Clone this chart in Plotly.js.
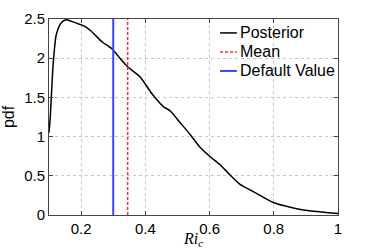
<!DOCTYPE html>
<html>
<head>
<meta charset="utf-8">
<script src="https://cdn.plot.ly/plotly-3.0.1.min.js"></script>
<style>html,body{margin:0;padding:0;background:#fff;}#chart{width:374px;height:249px;}</style>
</head>
<body>
<div id="chart"></div>
<script>
const riC = [0.100, 0.104, 0.107, 0.112, 0.117, 0.122, 0.133, 0.143, 0.153, 0.17, 0.19, 0.21, 0.23, 0.265, 0.296, 0.327, 0.345, 0.384, 0.42, 0.457, 0.477, 0.508, 0.539, 0.571, 0.60, 0.633, 0.664, 0.695, 0.726, 0.757, 0.798, 0.83, 0.871, 0.91, 0.943, 0.97, 1.0];
const posterior = [1.05, 1.25, 1.49, 1.87, 2.12, 2.29, 2.42, 2.47, 2.49, 2.47, 2.44, 2.41, 2.35, 2.21, 2.12, 1.97, 1.89, 1.76, 1.55, 1.38, 1.33, 1.18, 1.03, 0.86, 0.75, 0.64, 0.51, 0.39, 0.32, 0.25, 0.16, 0.12, 0.08, 0.055, 0.04, 0.03, 0.02];
const meanValue = 0.345;
const defaultValue = 0.3;
const vLineY = [0, 2.5];
const xTicks = [0.2, 0.4, 0.6, 0.8, 1];
const xTickText = ['0.2', '0.4', '0.6', '0.8', '1'];
const yTicks = [0, 0.5, 1, 1.5, 2, 2.5];
const yTickText = ['0', '0.5', '1', '1.5', '2', '2.5'];
const seriesNames = ['Posterior', 'Mean', 'Default Value'];
const seriesColors = ['#000000', '#ff2a2a', '#4040ff'];
const seriesDash = ['solid', '3px,2px', 'solid'];
const seriesWidth = [1.5, 1.5, 2];

const traces = [
  {x: riC, y: posterior, name: seriesNames[0], mode: 'lines', line: {color: seriesColors[0], width: seriesWidth[0], shape: 'spline', smoothing: 0.6}},
  {x: [meanValue, meanValue], y: vLineY, name: seriesNames[1], mode: 'lines', line: {color: seriesColors[1], width: seriesWidth[1], dash: seriesDash[1]}},
  {x: [defaultValue, defaultValue], y: vLineY, name: seriesNames[2], mode: 'lines', line: {color: seriesColors[2], width: seriesWidth[2]}}
];

// legend drawn in paper coordinates
const legX0 = 0.592, legX1 = 0.650, legTextX = 0.657;
const legY = [0.929, 0.832, 0.735];
const shapes = [], annotations = [];
seriesNames.forEach((n, i) => {
  shapes.push({type: 'line', xref: 'paper', yref: 'paper', x0: legX0, x1: legX1, y0: legY[i], y1: legY[i],
    line: {color: seriesColors[i], width: seriesWidth[i], dash: seriesDash[i]}});
  annotations.push({xref: 'paper', yref: 'paper', x: legTextX, y: legY[i], xanchor: 'left', yanchor: 'middle',
    text: n, showarrow: false, borderpad: 0,
    font: {family: 'Liberation Sans, Arial, sans-serif', size: 16, color: '#000'}});
});

const axisCommon = {
  showline: true, linecolor: '#444', linewidth: 1, mirror: 'ticks',
  ticks: 'inside', ticklen: 4, tickcolor: '#444',
  showgrid: true, gridcolor: '#c8c8c8', griddash: 'dot', gridwidth: 1,
  zeroline: false,
  tickfont: {family: 'Liberation Sans, Arial, sans-serif', size: 15, color: '#000'}
};

const layout = {
  width: 374, height: 249,
  margin: {l: 49, r: 36, t: 19, b: 34},
  paper_bgcolor: '#fff', plot_bgcolor: '#fff',
  showlegend: false,
  shapes: shapes,
  annotations: annotations,
  xaxis: Object.assign({}, axisCommon, {range: [0.1, 1], tickvals: xTicks, ticktext: xTickText,
    title: {text: '<i>Ri</i><sub><i>c</i></sub>', font: {family: 'Liberation Serif, DejaVu Serif, serif', size: 16, color: '#000'}, standoff: 4}}),
  yaxis: Object.assign({}, axisCommon, {range: [0, 2.5], tickvals: yTicks, ticktext: yTickText,
    title: {text: 'pdf', font: {family: 'Liberation Sans, Arial, sans-serif', size: 16, color: '#000'}, standoff: 8}})
};

Plotly.newPlot('chart', traces, layout, {displayModeBar: false, staticPlot: true});
</script>
</body>
</html>
